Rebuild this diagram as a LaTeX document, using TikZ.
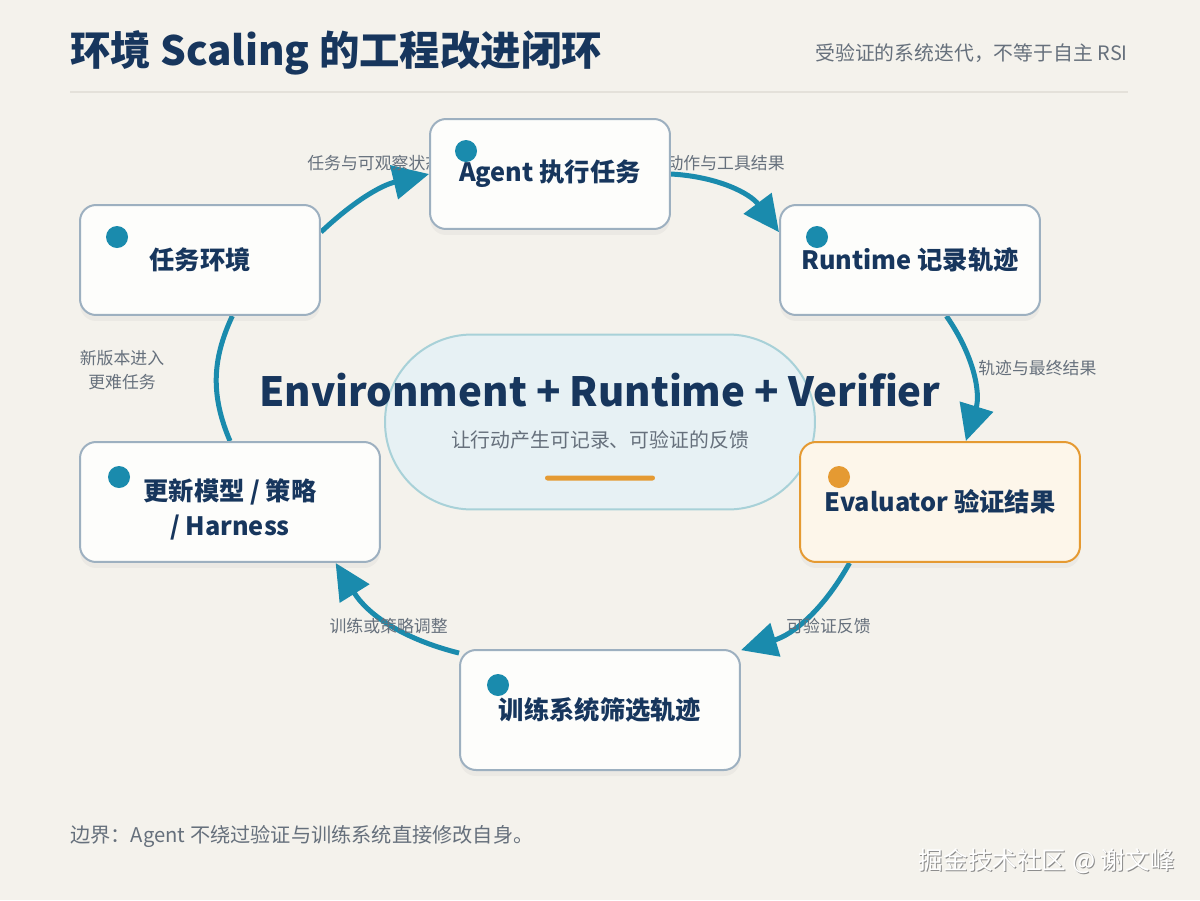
\documentclass[tikz,border=0pt]{standalone}
\usepackage{fontspec}
\setmainfont{Noto Sans CJK SC}
\usepackage{tikz}
\usetikzlibrary{positioning, arrows.meta, shadows}
\definecolor{Bg}{HTML}{F4F2EC}
\definecolor{Navy}{HTML}{17365D}
\definecolor{Muted}{HTML}{66707C}
\definecolor{Teal}{HTML}{1A8BAD}
\definecolor{Rule}{HTML}{E4E1DA}
\definecolor{CardFill}{HTML}{FDFDFB}
\definecolor{CardLine}{HTML}{9DB0C0}
\definecolor{Amber}{HTML}{E59A32}
\definecolor{AmberFill}{HTML}{FDF6EA}
\definecolor{HubFill}{HTML}{E7F1F4}
\definecolor{HubLine}{HTML}{A8D1D8}
\pgfdeclarelayer{paper}
\pgfdeclarelayer{edges}
\pgfsetlayers{paper,edges,main}

\begin{document}
\begin{tikzpicture}[x=0.02cm, y=-0.02cm]
          \tikzset{ card/.style ={draw=CardLine, fill=CardFill, line width=0.04cm, rounded corners=0.32cm, text=Navy, align=center, inner sep=0pt, font=\fontsize{14.4}{20}\selectfont\bfseries, drop shadow={shadow xshift=0cm, shadow yshift=-0.12cm, opacity=0.07}} }
          \tikzset{ dot/.style  ={circle, fill=Teal, minimum size=0.44cm, inner sep=0pt} }
          \tikzset{ tag/.style  ={text=Muted, inner sep=0pt, font=\fontsize{9.6}{14}\selectfont} }
          \tikzset{ flow/.style ={draw=Teal, line width=0.1cm, -{Triangle[length=0.72cm, width=0.68cm]}} }
          \tikzset{ hub/.style  ={draw=HubLine, fill=HubFill, line width=0.04cm, rounded corners=1.74cm, minimum width=8.6cm, minimum height=3.5cm} }

          \begin{pgfonlayer}{paper}
            \fill[Bg] (0,0) rectangle (1200,900);
          \end{pgfonlayer}

          % header
          \node[anchor=west, text=Navy, inner sep=0pt, font=\fontsize{23}{26}\selectfont\bfseries] (title) at (70,53) {环境 Scaling 的工程改进闭环};
          \node[anchor=east, text=Muted, inner sep=0pt, font=\fontsize{11.3}{14}\selectfont] (subtitle) at (1128,53) {受验证的系统迭代，不等于自主 RSI};
          \draw[Rule, line width=0.04cm] (70,92) -- (1128,92);

          % centre
          \node[hub] (core) at (600,422) {};
          \node[text=Navy, inner sep=0pt, font=\fontsize{22.9}{26}\selectfont\bfseries] (core_t) at (600,390) {Environment + Runtime + Verifier};
          \node[text=Muted, inner sep=0pt, font=\fontsize{11.3}{14}\selectfont] (core_s) at (600,440) {让行动产生可记录、可验证的反馈};
          \node[fill=Amber, rounded corners=0.05cm, minimum width=2.2cm, minimum height=0.1cm, inner sep=0pt] (core_bar) at (600,478) {};

          % edge labels
          \node[tag, anchor=west] (l1) at (307,163) {任务与可观察状态};
          \node[tag, anchor=east] (l2) at (785,163) {动作与工具结果};
          \node[tag, anchor=west] (l3) at (978,368) {轨迹与最终结果};
          \node[tag, anchor=west] (l4) at (786,626) {可验证反馈};
          \node[tag, anchor=east] (l5) at (448,626) {训练或策略调整};
          \node[tag, align=center] (l6) at (122,370) {新版本进入\\更难任务};

          % stages
          \node[card, minimum width=4.8cm, minimum height=2.2cm] (env)     at (200,260) {任务环境};
          \node[card, minimum width=4.8cm, minimum height=2.2cm] (agent)   at (550,174) {Agent 执行任务};
          \node[card, minimum width=5.2cm, minimum height=2.2cm] (runtime) at (910,260) {Runtime 记录轨迹};
          \node[card, minimum width=5.6cm, minimum height=2.4cm, draw=Amber, fill=AmberFill] (eval) at (940,502) {Evaluator 验证结果};
          \node[card, minimum width=5.6cm, minimum height=2.4cm] (train)   at (600,710) {训练系统筛选轨迹};
          \node[card, minimum width=6.0cm, minimum height=2.4cm, text height=1.42cm] (update) at (230,502) {更新模型 / 策略\\/ Harness};

          \node[dot] (env_d)     at ([shift={(38,33)}]env.north west) {};
          \node[dot] (agent_d)   at ([shift={(37,33)}]agent.north west) {};
          \node[dot] (runtime_d) at ([shift={(38,33)}]runtime.north west) {};
          \node[dot, fill=Amber] (eval_d) at ([shift={(40,36)}]eval.north west) {};
          \node[dot] (train_d)   at ([shift={(39,36)}]train.north west) {};
          \node[dot] (update_d)  at ([shift={(40,36)}]update.north west) {};

          % footer
          \node[anchor=west, text=Muted, inner sep=0pt, font=\fontsize{11.5}{14}\selectfont] (note) at (70,836) {边界：Agent 不绕过验证与训练系统直接修改自身。};
          \node[anchor=east, text=black!45, inner sep=0pt, font=\fontsize{14}{17}\selectfont] (mark_s) at (1176,862) {掘金技术社区 @ 谢文峰};
          \node[anchor=east, text=white, inner sep=0pt, font=\fontsize{14}{17}\selectfont] (mark) at (1175,861) {掘金技术社区 @ 谢文峰};

          % loop
          \begin{pgfonlayer}{edges}
            \draw[flow] (env.13)      to[bend left=15] (agent.west);
            \draw[flow] (agent.east)  to[bend left=25] (runtime.168);
            \draw[flow] (runtime.-57) to[bend left=26] (eval.67);
            \draw[flow] (eval.-146)   to[bend left=22] (train.23);
            \draw[flow] (train.158)   to[bend left=22] (update.-30);
            \draw[flow, -] (update.north) to[bend left=24] (env.-60);
          \end{pgfonlayer}
      \end{tikzpicture}
\end{document}
